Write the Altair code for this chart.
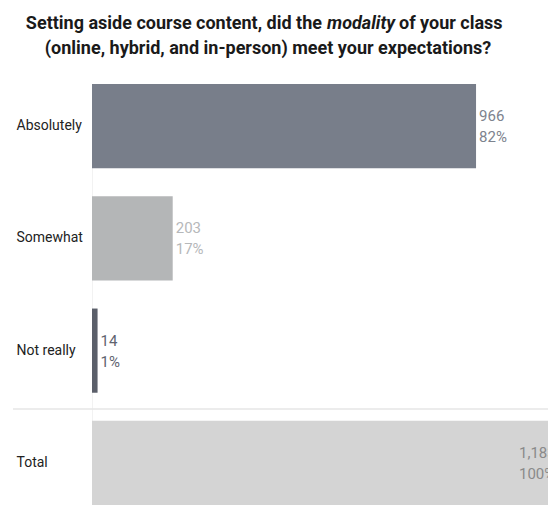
import altair as alt
import pandas as pd

categories = ["Absolutely", "Somewhat", "Not really", "Total"]
counts = [966, 203, 14, 1183]
pcts = ["82%", "17%", "1%", "100%"]

title_left = "Setting aside course content, did the"
title_italic = "modality"
title_right = "of your class"
title_line2 = "(online, hybrid, and in-person) meet your expectations?"

bar_colors = ["#787e8a", "#b4b6b7", "#5b5f6a", "#d4d4d4"]
label_colors = ["#7d838e", "#b6b8ba", "#5f6470", "#8a8a8a"]

df = pd.DataFrame({"category": categories, "count": counts, "pct": pcts})

W, H = 456, 421
FONT = "Roboto"

base = alt.Chart(df).transform_calculate(
    label="format(datum.count, ',') + '\\n' + datum.pct"
)

yenc = alt.Y(
    "category:N",
    sort=categories,
    scale=alt.Scale(paddingInner=0.25, paddingOuter=0),
    axis=alt.Axis(
        title=None, labelAlign="left", labelPadding=76, ticks=False,
        domainColor="#f2f2f2", labelFontSize=14, labelFont=FONT,
        labelColor="#222222", grid=False,
    ),
)
xscale = alt.Scale(domain=[0, 1147], nice=False, zero=True)

bars = base.mark_bar(clip=True).encode(
    x=alt.X("count:Q", scale=xscale, axis=None),
    y=yenc,
    color=alt.Color("category:N", scale=alt.Scale(domain=categories, range=bar_colors), legend=None),
)

labels = base.transform_filter("datum.category != 'Total'").mark_text(
    align="left", baseline="middle", dx=3, dy=-10, lineBreak="\n", lineHeight=21,
    font=FONT, fontSize=15,
).encode(
    x=alt.X("count:Q", scale=xscale),
    y=alt.Y("category:N", sort=categories),
    text="label:N",
    color=alt.Color("category:N", scale=alt.Scale(domain=categories, range=label_colors), legend=None),
)

total_label = base.transform_filter("datum.category == 'Total'").mark_text(
    align="left", baseline="middle", dy=-10, lineBreak="\n", lineHeight=21,
    font=FONT, fontSize=15, clip=True, color="#8a8a8a",
).encode(
    x=alt.value(427),
    y=alt.Y("category:N", sort=categories),
    text="label:N",
)

sep = alt.Chart(pd.DataFrame({"a": [0]})).mark_rule(color="#e6e6e6", strokeWidth=1.5).encode(
    x=alt.value(-79), x2=alt.value(W), y=alt.value(325)
)

def title_text(txt, x, y, align, italic=False):
    return alt.Chart(pd.DataFrame({"t": [txt]})).mark_text(
        align=align, baseline="middle", font=FONT, fontSize=18, fontWeight="bold",
        fontStyle="italic" if italic else "normal", color="#1a1a1a",
    ).encode(x=alt.value(x), y=alt.value(y), text="t:N")

t1 = title_text(title_left, 230, -60, "right")
t2 = title_text(title_italic, 235, -60, "left", italic=True)
t3 = title_text(title_right, 307, -60, "left")
t4 = title_text(title_line2, 176, -35, "center")

chart = alt.layer(bars, labels, total_label, sep, t1, t2, t3, t4).resolve_scale(
    color="independent"
).properties(
    width=W, height=H,
    padding={"left": 84, "top": 76, "right": 0, "bottom": 0},
    autosize="none",
).configure_view(stroke=None)

chart.save("out.html", embed_options={"renderer": "svg", "actions": False})
